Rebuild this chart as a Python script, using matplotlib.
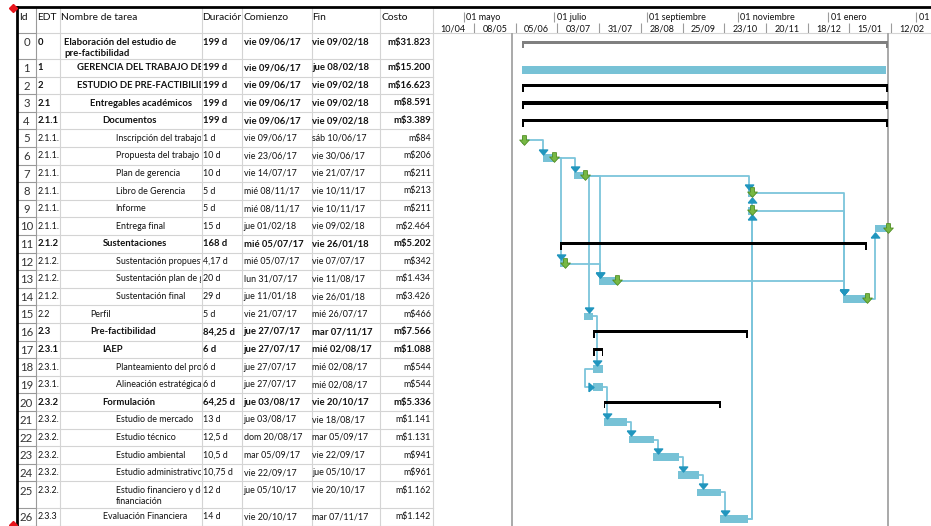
import datetime as dt

import matplotlib
matplotlib.use("Agg")
import matplotlib.dates as mdates
import matplotlib.pyplot as plt
import numpy as np
from matplotlib.patches import Rectangle
from matplotlib.path import Path

plt.rcParams["font.family"] = ["Lato", "DejaVu Sans"]

# ---- data read from the MS Project view ----
edt = ["0", "1", "2", "2.1", "2.1.1", "2.1.1.1", "2.1.1.2", "2.1.1.3", "2.1.1.4",
       "2.1.1.5", "2.1.1.6", "2.1.2", "2.1.2.1", "2.1.2.2", "2.1.2.3", "2.2", "2.3",
       "2.3.1", "2.3.1.1", "2.3.1.2", "2.3.2", "2.3.2.1", "2.3.2.2", "2.3.2.3",
       "2.3.2.4", "2.3.2.5", "2.3.3"]
names = ["Elaboración del estudio de\npre-factibilidad", "GERENCIA DEL TRABAJO DE GRADO",
         "ESTUDIO DE PRE-FACTIBILIDAD", "Entregables académicos", "Documentos",
         "Inscripción del trabajo de grado", "Propuesta del trabajo de grado",
         "Plan de gerencia", "Libro de Gerencia", "Informe", "Entrega final",
         "Sustentaciones", "Sustentación propuesta trabajo de grado",
         "Sustentación plan de gerencia", "Sustentación final", "Perfil",
         "Pre-factibilidad", "IAEP", "Planteamiento del problema",
         "Alineación estratégica", "Formulación", "Estudio de mercado",
         "Estudio técnico", "Estudio ambiental", "Estudio administrativo",
         "Estudio financiero y de\nfinanciación", "Evaluación Financiera"]
levels = [0, 1, 1, 2, 3, 4, 4, 4, 4, 4, 4, 3, 4, 4, 4, 2, 2, 3, 4, 4, 3, 4, 4, 4, 4, 4, 3]
durations = ["199 d", "199 d", "199 d", "199 d", "199 d", "1 d", "10 d", "10 d", "5 d",
             "5 d", "15 d", "168 d", "4,17 d", "20 d", "29 d", "5 d", "84,25 d", "6 d",
             "6 d", "6 d", "64,25 d", "13 d", "12,5 d", "10,5 d", "10,75 d", "12 d", "14 d"]
starts = ["vie 09/06/17", "vie 09/06/17", "vie 09/06/17", "vie 09/06/17", "vie 09/06/17",
          "vie 09/06/17", "vie 23/06/17", "vie 14/07/17", "mié 08/11/17", "mié 08/11/17",
          "jue 01/02/18", "mié 05/07/17", "mié 05/07/17", "lun 31/07/17", "jue 11/01/18",
          "vie 21/07/17", "jue 27/07/17", "jue 27/07/17", "jue 27/07/17", "jue 27/07/17",
          "jue 03/08/17", "jue 03/08/17", "dom 20/08/17", "mar 05/09/17", "vie 22/09/17",
          "jue 05/10/17", "vie 20/10/17"]
finishes = ["vie 09/02/18", "jue 08/02/18", "vie 09/02/18", "vie 09/02/18", "vie 09/02/18",
            "sáb 10/06/17", "vie 30/06/17", "vie 21/07/17", "vie 10/11/17", "vie 10/11/17",
            "vie 09/02/18", "vie 26/01/18", "vie 07/07/17", "vie 11/08/17", "vie 26/01/18",
            "mié 26/07/17", "mar 07/11/17", "mié 02/08/17", "mié 02/08/17", "mié 02/08/17",
            "vie 20/10/17", "vie 18/08/17", "mar 05/09/17", "vie 22/09/17", "jue 05/10/17",
            "vie 20/10/17", "mar 07/11/17"]
costs = ["m$31.823", "m$15.200", "m$16.623", "m$8.591", "m$3.389", "m$84", "m$206",
         "m$211", "m$213", "m$211", "m$2.464", "m$5.202", "m$342", "m$1.434", "m$3.426",
         "m$466", "m$7.566", "m$1.088", "m$544", "m$544", "m$5.336", "m$1.141", "m$1.131",
         "m$941", "m$961", "m$1.162", "m$1.142"]
bold_rows = [0, 1, 2, 3, 4, 11, 16, 17, 20]
project_row = 0
summary_rows = [2, 3, 4, 11, 16, 17, 20]
deadline_rows = [5, 6, 7, 8, 9, 10, 12, 13, 14]
fs_links = [(5, 6), (6, 7), (6, 12), (7, 8), (7, 13), (7, 15), (12, 13), (13, 14),
            (8, 14), (9, 14), (14, 10), (26, 8), (26, 9), (15, 18), (19, 21),
            (21, 22), (22, 23), (23, 24), (24, 25), (25, 26)]
ss_links = [(18, 19)]
month_ticks = ["2017-05-01", "2017-07-01", "2017-09-01", "2017-11-01", "2018-01-01",
               "2018-03-01"]
month_labels = ["01 mayo", "01 julio", "01 septiembre", "01 noviembre", "01 enero",
                "01 marzo"]
week_ticks = ["2017-04-10", "2017-05-08", "2017-06-05", "2017-07-03", "2017-07-31",
              "2017-08-28", "2017-09-25", "2017-10-23", "2017-11-20", "2017-12-18",
              "2018-01-15", "2018-02-12"]
marker_lines = ["2017-06-02 10:00", "2018-02-10 06:00"]


def parse_day(s):
    return dt.datetime.strptime(s.split()[-1], "%d/%m/%y")


def to_num(s):
    return mdates.date2num(dt.datetime.fromisoformat(s))


n = len(names)
start_num = np.array([mdates.date2num(parse_day(s)) for s in starts])
finish_num = np.array([mdates.date2num(parse_day(s)) for s in finishes]) + 0.8

# ---- layout in pixels ----
W, H = 931, 526
HEAD_TOP, HEAD_BOT = 7.0, 33.3
row_heights = [25.7] + [17.6] * 24 + [26.6, 17.6]
row_tops = HEAD_BOT + np.concatenate([[0], np.cumsum(row_heights)[:-1]])
row_bots = row_tops + np.array(row_heights)
col_x = [17, 36, 60, 201.7, 242.3, 311.7, 380, 432.7]
GANTT_X0 = 433
PX_PER_DAY = 1.489
t0 = mdates.date2num(dt.datetime(2017, 4, 10, 10))
t1 = t0 + (W - GANTT_X0) / PX_PER_DAY

GRID = "#d4d4d4"
ID_GRID = "#9a9a9a"
TXT = "#111111"
BAR = "#77c2d6"
LINK = "#7cc5db"
HEAD = "#2196be"
FS = 6.4
FS_BOLD = 6.8

fig = plt.figure(figsize=(W / 100, H / 100), dpi=100)
tab = fig.add_axes([0, 0, 1, 1])
tab.set_xlim(0, W)
tab.set_ylim(H, 0)
tab.axis("off")

clips = []
for a, b in zip(col_x[:-1], col_x[1:]):
    r = Rectangle((a, 0), b - a - 1, H, transform=tab.transData)
    clips.append(r)


def put(col, x, y, s, color=TXT, **kw):
    t = tab.text(x, y, s, va="center", color=color, parse_math=False, clip_on=True, **kw)
    t.set_clip_path(clips[col])
    return t


# grid of the table
for x in col_x[1:]:
    tab.plot([x, x], [HEAD_TOP, H], color=ID_GRID if x == 36 else GRID, lw=0.8)
tab.plot([36, W], [HEAD_BOT, HEAD_BOT], color=GRID, lw=0.8)
tab.plot([17, 36], [HEAD_BOT, HEAD_BOT], color=ID_GRID, lw=0.8)
for yb in row_bots:
    tab.plot([36, col_x[-1]], [yb, yb], color=GRID, lw=0.8)
    tab.plot([17, 36], [yb, yb], color=ID_GRID, lw=0.8)
tab.plot([17, W], [HEAD_TOP, HEAD_TOP], color="black", lw=2)
tab.plot([17, 17], [HEAD_TOP, H], color="black", lw=2)
tab.plot([13], [8], marker="D", ms=4, color="#e8141b", clip_on=False)
tab.plot([13], [525], marker="D", ms=4, color="#e8141b", clip_on=False)

headers = ["Id", "EDT", "Nombre de tarea", "Duración", "Comienzo", "Fin", "Costo"]
header_x = [19, 37, 61, 202, 243, 312, 381]
for c, (x, lab) in enumerate(zip(header_x, headers)):
    put(c, x, 17, lab, fontsize=7.4, ha="left")

for i in range(n):
    top = row_tops[i]
    y0 = top + 8.8
    bold = i in bold_rows
    kw = dict(weight="bold" if bold else "normal", fontsize=FS_BOLD if bold else FS)
    put(0, 26.5, top + 9.6, str(i), fontsize=8.2, ha="center", color="#333333")
    put(1, 37.5, y0, edt[i], ha="left", **kw)
    for k, line in enumerate(names[i].split("\n")):
        put(2, 64 + 12.9 * levels[i], y0 + 11 * k, line, ha="left", **kw)
    put(3, 202.7, y0, durations[i], ha="left", **kw)
    put(4, 243.5, y0, starts[i], ha="left", **kw)
    put(5, 312.5, y0, finishes[i], ha="left", **kw)
    put(6, 431, y0, costs[i], ha="right", **kw)

# ---- timescale header ----
hx = fig.add_axes([GANTT_X0 / W, (H - HEAD_BOT) / H, (W - GANTT_X0) / W,
                   (HEAD_BOT - HEAD_TOP) / H])
hx.set_xlim(t0, t1)
hx.set_ylim(HEAD_BOT, HEAD_TOP)
hx.axis("off")
m_num = [to_num(d) for d in month_ticks]
hx.vlines(m_num, 11.7, 21.7, color="#9c9c9c", lw=0.8)
for m, lab in zip(m_num, month_labels):
    hx.text(m + 2.5 / PX_PER_DAY, 17.3, lab, fontsize=6.5, ha="left", va="center",
            color=TXT, clip_on=True)
w_num = [to_num(d) for d in week_ticks]
hx.vlines(w_num, 23.3, 33.3, color="#9c9c9c", lw=0.8)
for w in w_num:
    hx.text(w + 14, 29.3, mdates.num2date(w).strftime("%d/%m"), fontsize=6.5,
            ha="center", va="center", color=TXT, clip_on=True)

# ---- gantt ----
gx = fig.add_axes([GANTT_X0 / W, 0, (W - GANTT_X0) / W, (H - HEAD_BOT) / H])
gx.set_xlim(t0, t1)
gx.set_ylim(H, HEAD_BOT)
gx.axis("off")

gx.vlines([to_num(d) for d in marker_lines], HEAD_BOT, H, color="#a3a3a3", lw=1.3, zorder=1)

bar_c = row_tops + 11
task_rows = np.array([i for i in range(n) if i not in summary_rows and i != project_row])
gx.barh(bar_c[task_rows], finish_num[task_rows] - start_num[task_rows],
        left=start_num[task_rows], height=7.6, color=BAR, zorder=3)


def bracket(rows, color):
    rows = np.array(rows)
    tw = 1.8 / PX_PER_DAY
    gx.barh(row_tops[rows] + 8.8, finish_num[rows] - start_num[rows],
            left=start_num[rows], height=3.2, color=color, zorder=3)
    gx.barh(row_tops[rows] + 11.1, tw, left=start_num[rows], height=7.8,
            color=color, zorder=3)
    gx.barh(row_tops[rows] + 11.1, tw, left=finish_num[rows] - tw, height=7.8,
            color=color, zorder=3)


bracket([project_row], "#808080")
bracket(summary_rows, "black")

tri_down = Path([(-1, 0.6), (1, 0.6), (0, -0.6), (-1, 0.6)])
tri_up = Path([(-1, -0.6), (1, -0.6), (0, 0.6), (-1, -0.6)])
tri_right = Path([(-0.6, -1), (-0.6, 1), (0.6, 0), (-0.6, -1)])
GAP = 4 / PX_PER_DAY
for p, s in fs_links:
    x0, y0 = finish_num[p], bar_c[p]
    xd = max(start_num[s] + 0.5, x0 + GAP)
    if s > p:
        y1 = row_tops[s] + 7.2 - 2.5
        mk = tri_down
    else:
        y1 = row_tops[s] + 14.8 + 2.5
        mk = tri_up
    gx.plot([x0, xd, xd], [y0, y0, y1], color=LINK, lw=1.3, zorder=2)
    gx.plot([xd], [y1], marker=mk, ms=6, color=HEAD, ls="none", zorder=4)
for p, s in ss_links:
    x0 = start_num[p]
    xl = x0 - 8 / PX_PER_DAY
    xe = start_num[s] - 2.5 / PX_PER_DAY
    gx.plot([x0, xl, xl, xe], [bar_c[p], bar_c[p], bar_c[s], bar_c[s]],
            color=LINK, lw=1.3, zorder=2)
    gx.plot([xe], [bar_c[s]], marker=tri_right, ms=6, color=HEAD, ls="none", zorder=4)

green_arrow = Path([(-0.2, 0.5), (0.2, 0.5), (0.2, 0.05), (0.5, 0.05), (0, -0.5),
                    (-0.5, 0.05), (-0.2, 0.05), (-0.2, 0.5)])
dl = np.array(deadline_rows)
gx.plot(finish_num[dl], bar_c[dl] - 0.8, ls="none", marker=green_arrow, ms=7,
        mfc="#77b844", mec="#4f8d22", mew=0.6, zorder=5)

fig.savefig("out.png", dpi=100)
